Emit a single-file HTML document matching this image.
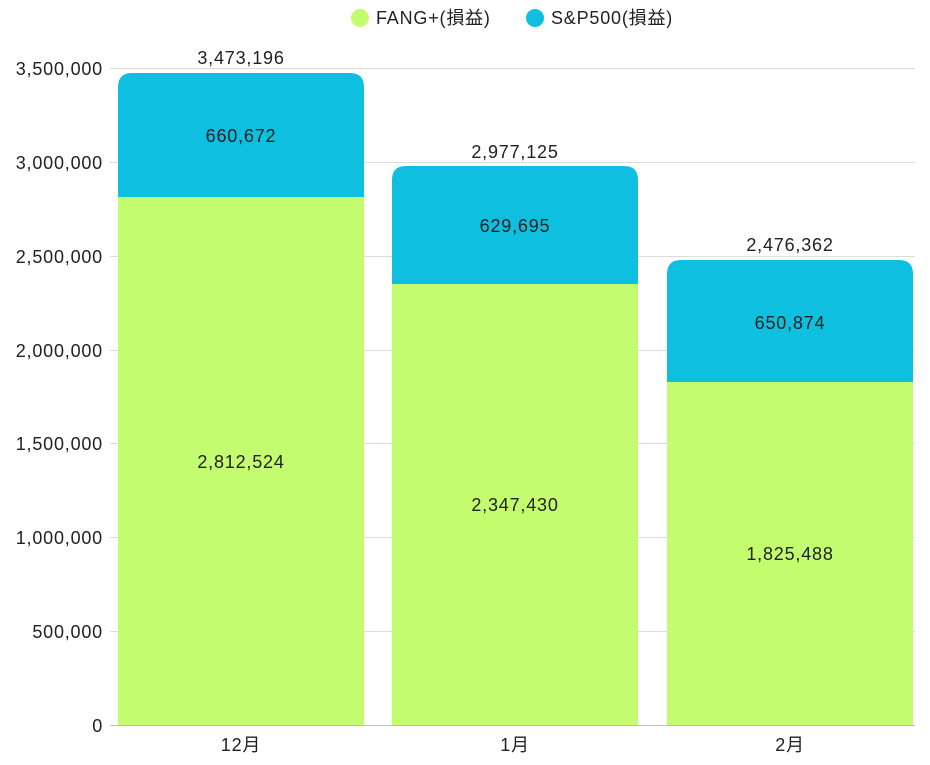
<!DOCTYPE html>
<html><head><meta charset="utf-8"><style>
html,body{margin:0;padding:0;background:#fff;}
svg text{font-family:"Liberation Sans","Noto Sans CJK JP",sans-serif;fill:#222;letter-spacing:0.8px;}
</style></head><body>
<svg width="930" height="760" xmlns="http://www.w3.org/2000/svg">
<g stroke="#dcdcdc" stroke-width="1">
<line x1="110" x2="915" y1="68.5" y2="68.5"/><line x1="110" x2="915" y1="162.5" y2="162.5"/>
<line x1="110" x2="915" y1="256.5" y2="256.5"/><line x1="110" x2="915" y1="350.5" y2="350.5"/>
<line x1="110" x2="915" y1="443.5" y2="443.5"/><line x1="110" x2="915" y1="537.5" y2="537.5"/>
<line x1="110" x2="915" y1="631.5" y2="631.5"/>
</g>
<g font-size="18" text-anchor="end">
<text x="103" y="75">3,500,000</text><text x="103" y="169">3,000,000</text>
<text x="103" y="263">2,500,000</text><text x="103" y="357">2,000,000</text>
<text x="103" y="450">1,500,000</text><text x="103" y="544">1,000,000</text>
<text x="103" y="638">500,000</text><text x="103" y="732">0</text>
</g>
<path d="M118,197 V87 Q118,73 132,73 H350 Q364,73 364,87 V197 Z" fill="#0ebfdf"/>
<rect x="118" y="197" width="246" height="528" fill="#c3fd6f"/>
<path d="M392,284 V180 Q392,166 406,166 H624 Q638,166 638,180 V284 Z" fill="#0ebfdf"/>
<rect x="392" y="284" width="246" height="441" fill="#c3fd6f"/>
<path d="M667,382 V274 Q667,260 681,260 H899 Q913,260 913,274 V382 Z" fill="#0ebfdf"/>
<rect x="667" y="382" width="246" height="343" fill="#c3fd6f"/>
<line x1="110" x2="915" y1="725.5" y2="725.5" stroke="#bbb"/>
<g font-size="18" text-anchor="middle">
<text x="241" y="64">3,473,196</text><text x="241" y="142">660,672</text><text x="241" y="468">2,812,524</text>
<text x="515" y="158">2,977,125</text><text x="515" y="232">629,695</text><text x="515" y="511">2,347,430</text>
<text x="790" y="251">2,476,362</text><text x="790" y="329">650,874</text><text x="790" y="560">1,825,488</text>
<text x="241" y="751">12月</text><text x="515" y="751">1月</text><text x="790" y="751">2月</text>
</g>
<circle cx="360" cy="18" r="9" fill="#c3fd6f"/>
<text x="376" y="24" font-size="18">FANG+(損益)</text>
<circle cx="535" cy="18" r="9" fill="#0ebfdf"/>
<text x="551" y="24" font-size="18">S&amp;P500(損益)</text>
</svg>
</body></html>
